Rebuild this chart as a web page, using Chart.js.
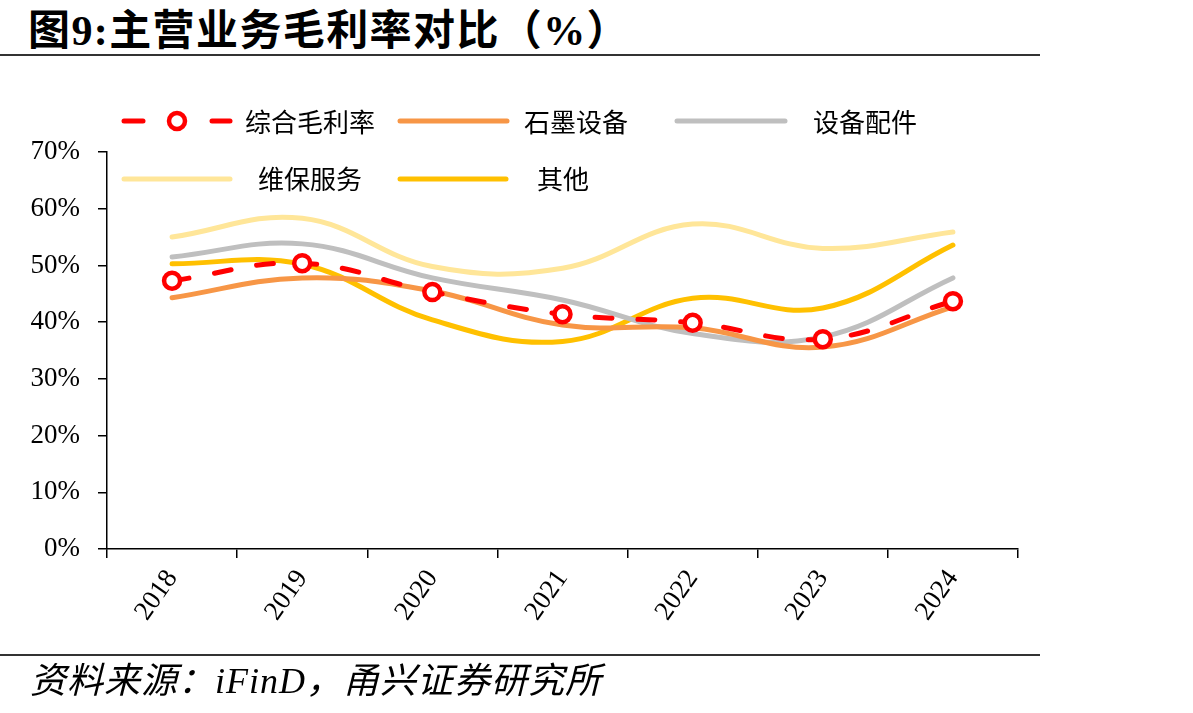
<!DOCTYPE html>
<html>
<head>
<meta charset="utf-8">
<script src="https://cdn.jsdelivr.net/npm/chart.js@4.4.1/dist/chart.umd.min.js"></script>
<style>
  html, body { margin: 0; padding: 0; background: #fff; }
  body { width: 1193px; height: 713px; position: relative; overflow: hidden; }
  #titulo {
    position: absolute; left: 28px; top: -4px; line-height: 42px; letter-spacing: 1.4px;
    font: bold 42px "Liberation Serif", "Noto Sans CJK SC", serif;
    color: #000; white-space: nowrap;
  }
  .linha { position: absolute; left: 0; width: 1040px; height: 2px; background: #333; }
  #fonte {
    position: absolute; left: 30px; top: 651px; line-height: 36px; letter-spacing: 1px;
    font: italic 36px "Liberation Serif", "Noto Sans CJK SC", serif;
    color: #000; white-space: nowrap;
  }
  #grafico { position: absolute; left: 0; top: 0; }
</style>
</head>
<body>
<div id="titulo">图9:主营业务毛利率对比（%）</div>
<div class="linha" style="top:54px"></div>
<canvas id="grafico" width="1193" height="713"></canvas>
<div class="linha" style="top:654px"></div>
<div id="fonte">资料来源：iFinD，甬兴证券研究所</div>

<script>
// anos e séries (valores em %)
const anos = ['2018', '2019', '2020', '2021', '2022', '2023', '2024'];
const margemTotal = [47.3, 50.4, 45.3, 41.4, 39.9, 37.0, 43.7];
const grafite = [44.3, 47.8, 45.5, 39.5, 39.0, 35.6, 42.7];
const pecas = [51.5, 53.8, 47.8, 43.9, 38.0, 37.4, 47.8];
const manutencao = [55.0, 58.3, 49.8, 49.5, 57.3, 53.0, 55.9];
const outros = [50.3, 50.2, 40.4, 36.6, 44.2, 42.5, 53.6];
const nomes = ['综合毛利率', '石墨设备', '设备配件', '维保服务', '其他'];
const ticksY = [0, 10, 20, 30, 40, 50, 60, 70];

const cores = ['#FF0000', '#F79646', '#BFBFBF', '#FFE699', '#FFC000'];

function serie(nome, dados, cor, extra) {
    return Object.assign({
        label: nome,
        data: dados,
        borderColor: cor,
        backgroundColor: cor,
        borderWidth: 5,
        tension: 0.4,
        pointRadius: 0,
        pointHoverRadius: 0,
        borderCapStyle: 'round',
        fill: false
    }, extra || {});
}

// legenda desenhada à mão, posições iguais à figura
const legendaManual = {
    id: 'legendaManual',
    afterDraw(chart) {
        const ctx = chart.ctx;
        ctx.save();
        ctx.lineCap = 'round';
        ctx.lineWidth = 5;
        // 综合毛利率
        ctx.strokeStyle = cores[0];
        ctx.beginPath(); ctx.moveTo(124, 121); ctx.lineTo(143, 121); ctx.stroke();
        ctx.beginPath(); ctx.moveTo(212, 121); ctx.lineTo(230, 121); ctx.stroke();
        ctx.fillStyle = '#fff';
        ctx.lineWidth = 4.5;
        ctx.beginPath(); ctx.arc(177, 121, 8, 0, Math.PI * 2); ctx.fill(); ctx.stroke();
        ctx.lineWidth = 5;
        const linhas = [
            [1, 400, 507, 121],
            [2, 677, 785, 121],
            [3, 124, 230, 179],
            [4, 400, 506, 179]
        ];
        linhas.forEach(([i, x1, x2, y]) => {
            ctx.strokeStyle = cores[i];
            ctx.beginPath(); ctx.moveTo(x1, y); ctx.lineTo(x2, y); ctx.stroke();
        });
        ctx.fillStyle = '#000';
        ctx.font = '26px "Noto Sans CJK SC", sans-serif';
        ctx.textBaseline = 'middle';
        const textos = [[0, 245, 122], [1, 524, 122], [2, 813, 122], [3, 258, 179], [4, 537, 179]];
        textos.forEach(([i, x, y]) => ctx.fillText(nomes[i], x, y));
        ctx.restore();
    }
};

document.addEventListener('DOMContentLoaded', () => {
    const ctx = document.getElementById('grafico').getContext('2d');
    new Chart(ctx, {
        type: 'line',
        data: {
            labels: anos,
            datasets: [
                serie(nomes[0], margemTotal, cores[0], {
                    borderDash: [17, 26],
                    pointRadius: 8,
                    pointBorderWidth: 4.5,
                    pointBackgroundColor: '#fff',
                    pointBorderColor: cores[0]
                }),
                serie(nomes[1], grafite, cores[1]),
                serie(nomes[2], pecas, cores[2]),
                serie(nomes[3], manutencao, cores[3]),
                serie(nomes[4], outros, cores[4])
            ]
        },
        options: {
            responsive: false,
            animation: false,
            layout: { padding: { left: 0, top: 152, right: 175, bottom: 70 } },
            plugins: {
                legend: { display: false },
                tooltip: { enabled: false }
            },
            scales: {
                x: {
                    offset: true,
                    grid: {
                        offset: true,
                        drawOnChartArea: false,
                        drawTicks: true,
                        tickLength: 9,
                        color: '#000',
                        lineWidth: 1.5
                    },
                    border: { color: '#000', width: 1.5 },
                    ticks: {
                        color: '#000',
                        font: { family: 'Liberation Serif', size: 27 },
                        minRotation: 55,
                        maxRotation: 55,
                        padding: 6
                    },
                    afterFit: (s) => { s.height = 94; }
                },
                y: {
                    min: 0,
                    max: 70,
                    afterBuildTicks: (s) => { s.ticks = ticksY.map(v => ({ value: v })); },
                    grid: {
                        drawOnChartArea: false,
                        drawTicks: true,
                        tickLength: 9,
                        color: '#000',
                        lineWidth: 1.5
                    },
                    border: { color: '#000', width: 1.5 },
                    ticks: {
                        color: '#000',
                        font: { family: 'Liberation Serif', size: 27 },
                        padding: 18,
                        callback: (v) => v + '%'
                    },
                    afterFit: (s) => { s.width = 107; }
                }
            }
        },
        plugins: [legendaManual]
    });
});
</script>
</body>
</html>
